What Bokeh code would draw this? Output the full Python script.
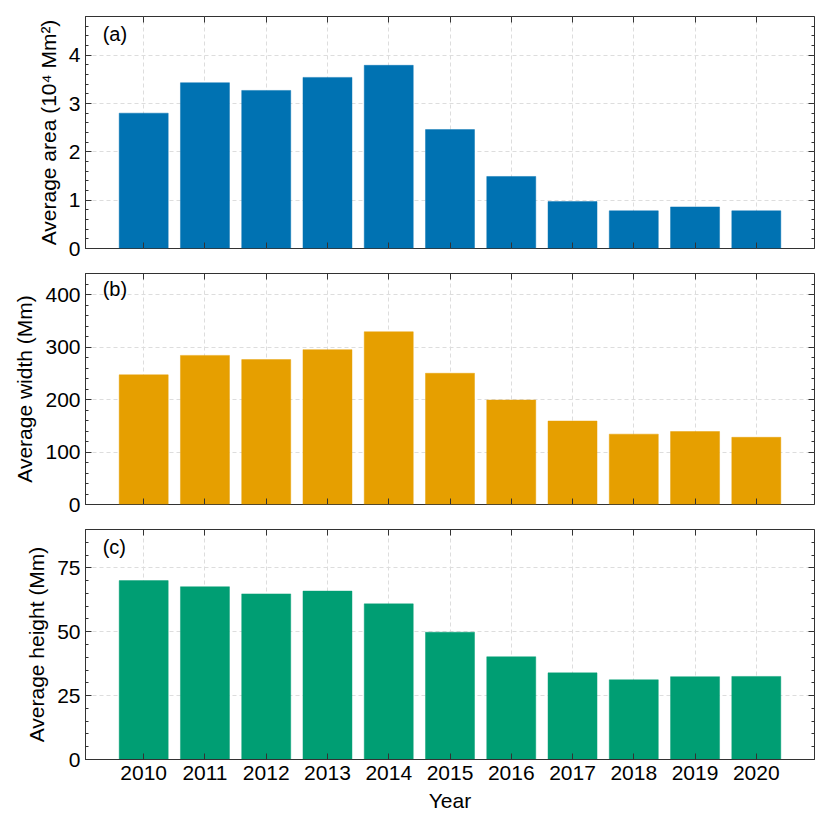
from bokeh.plotting import figure
from bokeh.models import FixedTicker, LinearAxis, Label, Range1d, CustomLabelingPolicy
from bokeh.layouts import column
from bokeh.embed import file_html
from bokeh.resources import INLINE

years = [2010, 2011, 2012, 2013, 2014, 2015, 2016, 2017, 2018, 2019, 2020]
area = [2.80, 3.43, 3.27, 3.54, 3.79, 2.46, 1.49, 0.97, 0.78, 0.86, 0.78]
width_mm = [247, 284, 276, 295, 329, 250, 199, 159, 134, 139, 128]
height_mm = [70.0, 67.6, 64.8, 65.9, 60.9, 49.8, 40.2, 33.9, 31.2, 32.4, 32.5]

area_ticks = [0, 1, 2, 3, 4]
width_ticks = [0, 100, 200, 300, 400]
height_ticks = [0, 25, 50, 75]

FONT = "Liberation Sans"
AX = "#333333"
FS = "21px"
X0, X1 = 2009.05, 2020.95


def minor_list(step, top):
    out = []
    v = 0.0
    while v <= top + 1e-9:
        out.append(round(v, 6))
        v += step
    return out


def style_axis(ax, show_labels):
    ax.major_tick_in = 6
    ax.major_tick_out = 0
    ax.minor_tick_in = 3
    ax.minor_tick_out = 0
    ax.axis_line_color = AX
    ax.major_tick_line_color = AX
    ax.minor_tick_line_color = AX
    ax.major_label_text_font = FONT
    ax.major_label_text_color = "black"
    ax.major_label_text_font_size = FS
    ax.axis_label_text_font = FONT
    ax.axis_label_text_font_style = "normal"
    ax.axis_label_text_font_size = FS
    ax.axis_label_text_color = "black"
    if show_labels:
        ax.major_label_standoff = 5
    else:
        ax.major_label_standoff = 0
        ax.major_label_policy = CustomLabelingPolicy(code="return new Set()")


def panel(vals, color, ymax, yticks, ystep, ylabel, tag, tag_y, top, fh, bottom, show_x):
    p = figure(frame_width=729, frame_height=fh, min_border_left=85, min_border_right=10,
               min_border_top=top, min_border_bottom=bottom,
               x_range=Range1d(X0, X1), y_range=Range1d(0, ymax),
               output_backend="svg", toolbar_location=None)
    p.vbar(x=years, top=vals, width=0.8, fill_color=color, line_color=color,
           line_alpha=0.45, line_width=1)
    xt = FixedTicker(ticks=years, minor_ticks=[])
    yt = FixedTicker(ticks=yticks, minor_ticks=minor_list(ystep, ymax))
    p.xaxis.ticker = xt
    p.yaxis.ticker = yt
    style_axis(p.xaxis[0], show_x)
    style_axis(p.yaxis[0], True)
    p.yaxis.axis_label = ylabel
    p.yaxis.axis_label_standoff = 6
    if show_x:
        p.xaxis.axis_label = "Year"
        p.xaxis.axis_label_standoff = 6
        p.xaxis.major_label_standoff = 6
    else:
        p.xaxis.fixed_location = 0
    top_ax = LinearAxis(ticker=xt, fixed_location=ymax)
    style_axis(top_ax, False)
    p.add_layout(top_ax, "above")
    right_ax = LinearAxis(ticker=yt, fixed_location=X1)
    style_axis(right_ax, False)
    p.add_layout(right_ax, "right")
    p.xgrid.ticker = xt
    p.ygrid.ticker = FixedTicker(ticks=yticks)
    p.grid.grid_line_color = "#dddddd"
    p.grid.grid_line_dash = "4 3"
    p.grid.grid_line_width = 1
    p.outline_line_color = AX
    p.outline_line_width = 1
    p.add_layout(Label(x=2009.33, y=tag_y, text=tag, text_font=FONT,
                       text_font_size="20px", text_baseline="middle",
                       text_align="left", text_color="black"))
    return p


pa = panel(area, "#0072B2", 4.8, area_ticks, 0.2, "Average area (10\u2074 Mm\u00b2)",
           "(a)", 4.44, 16, 232, 12, False)
pb = panel(width_mm, "#E69F00", 440, width_ticks, 20, "Average width (Mm)",
           "(b)", 410, 13, 231, 12, False)
pc = panel(height_mm, "#009E73", 90, height_ticks, 5, "Average height (Mm)",
           "(c)", 83.2, 13, 230, 58, True)

layout = column(pa, pb, pc)
open("out.html", "w").write(file_html(layout, INLINE))
